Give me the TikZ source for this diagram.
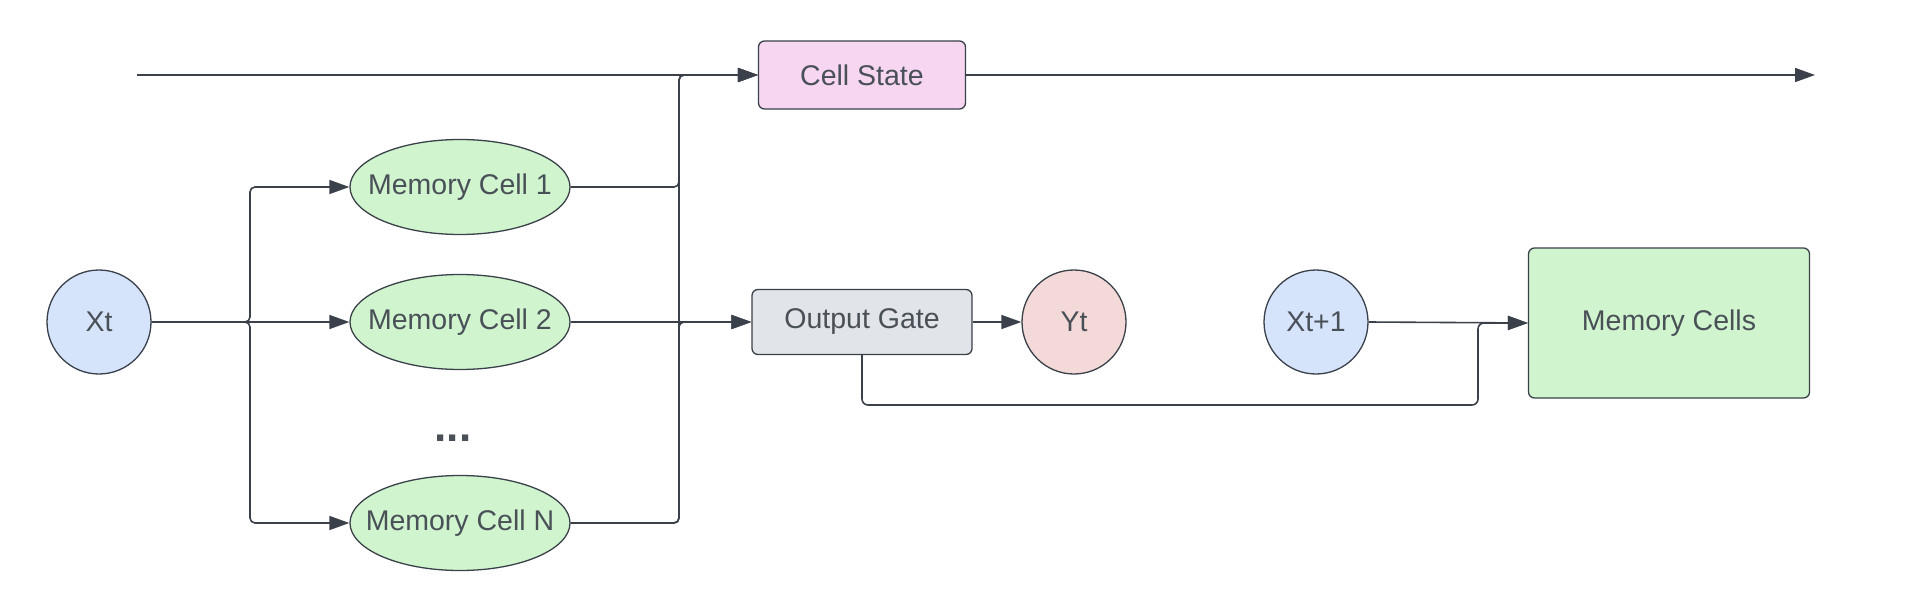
\documentclass[tikz,border=0pt]{standalone}
\usepackage{fontspec}
\setmainfont{Liberation Sans}
\usetikzlibrary{arrows.meta,shapes.geometric}
\definecolor{ink}{HTML}{3A414A}
\definecolor{txt}{HTML}{4A5058}
\definecolor{xblue}{HTML}{D5E3FB}
\definecolor{mgreen}{HTML}{D0F5CE}
\definecolor{cpink}{HTML}{F6D6F1}
\definecolor{ggray}{HTML}{E1E4E8}
\definecolor{ypink}{HTML}{F4D9D9}
\begin{document}
\begin{tikzpicture}[x=1pt,y=-1pt,
  every node/.style={font=\fontsize{28.5}{34}\selectfont, text=txt, draw=ink, line width=1.3pt},
  circ/.style={circle, minimum size=104pt, inner sep=0pt},
  ell/.style={ellipse, minimum width=220pt, minimum height=95pt, inner xsep=-30pt, inner ysep=0pt, fill=mgreen},
  boxn/.style={rectangle, rounded corners=6pt, inner sep=0pt},
  arr/.style={draw=ink, line width=1.6pt, -{Triangle[length=20pt,width=14pt]}},
  ln/.style={draw=ink, line width=1.6pt}]
\useasboundingbox (0,0) rectangle (1916,610);

\node[circ, fill=xblue] (xt) at (99,322) {Xt};
\node[ell] (m1) at (460,187) {Memory Cell 1};
\node[ell] (m2) at (460,322) {Memory Cell 2};
\node[ell] (mN) at (460,523) {Memory Cell N};
\node[draw=none, font=\fontsize{44}{50}\selectfont\bfseries] (dots) at (453,438) {...};
\node[boxn, fill=cpink, minimum width=207pt, minimum height=68pt] (cs) at (862,75) {Cell State};
\node[boxn, fill=ggray, minimum width=220pt, minimum height=65pt] (og) at (862,322) {Output Gate};
\node[circ, fill=ypink] (yt) at (1074,322) {Yt};
\node[circ, fill=xblue] (xt1) at (1316,322) {Xt+1};
\node[boxn, fill=mgreen, minimum width=281pt, minimum height=150pt] (mc) at (1669,323) {Memory Cells};

\coordinate (tstart) at (137,75);
\coordinate (tend) at (1815,75);

\draw[arr] (tstart) -- (cs.west);
\draw[arr] (cs.east) -- (tend);

\draw[arr] (xt.east) -- (m2.west);
\draw[arr, rounded corners=5pt] (xt.east) -- (250,322) |- (m1.west);
\draw[arr, rounded corners=5pt] (xt.east) -- (250,322) |- (mN.west);

\draw[arr, rounded corners=5pt] (m1.east) -| (679,75) -- (cs.west);
\draw[arr, rounded corners=5pt] (mN.east) -| (679,75) -- (cs.west);
\draw[arr] (m2.east) -- (og.west);
\draw[arr, rounded corners=5pt] (mN.east) -| (679,322) -- (og.west);

\draw[arr] (og.east) -- (yt.west);
\draw[arr] (xt1.east) -- (mc.west);
\draw[arr, rounded corners=6pt] (og.south) |- (1478,405) |- (mc.west);
\end{tikzpicture}
\end{document}
